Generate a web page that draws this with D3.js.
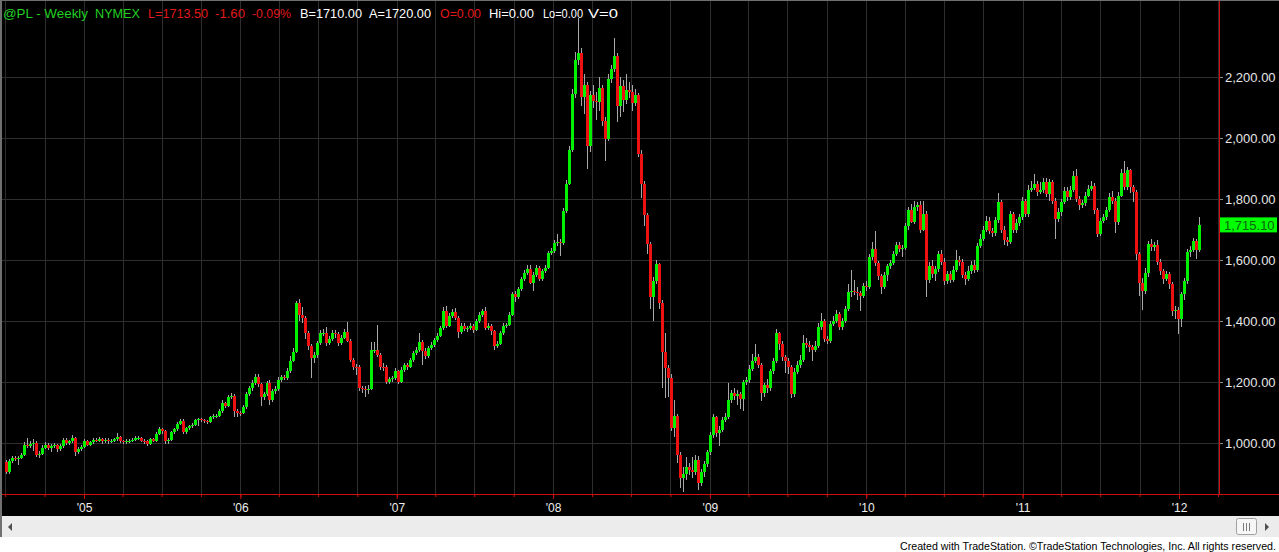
<!DOCTYPE html>
<html><head><meta charset="utf-8">
<script src="https://cdn.jsdelivr.net/npm/d3@7"></script>
<style>html,body{margin:0;padding:0;background:#fff;overflow:hidden}svg{display:block}</style>
</head><body><svg id="c" width="1279" height="552"></svg>
<script>
// ---- DATA: weekly bars [high, low, close]; open = previous close ----
const firstOpen = 938;
const firstWeek = new Date(2004, 6, 2);
const w2004 = [[945,897,905],[946,898,940],[956,935,950],[958,940,948],[958,927,952],[968,948,962],[1003,958,995],[1017,985,990],[1006,984,998],[1012,975,1000],[1008,955,960],[975,952,965],[995,960,985],[1003,980,995],[1000,978,985],[996,972,990],[1000,982,992],[998,972,980],[996,974,990],[1016,985,1010],[1018,995,1000],[1010,994,1005],[1025,1000,1015],[1020,956,970],[986,964,980],[994,975,988],[1012,984,1005]];
const w2005 = [[1010,990,995],[1008,990,1002],[1018,998,1010],[1016,1002,1008],[1020,1003,1012],[1016,998,1005],[1016,1000,1010],[1015,998,1005],[1014,1000,1008],[1018,1002,1012],[1033,1008,1020],[1024,1000,1005],[1010,998,1003],[1012,998,1006],[1014,1000,1008],[1016,1003,1010],[1022,1006,1015],[1022,1010,1017],[1020,1002,1008],[1012,998,1005],[1010,990,998],[1018,994,1012],[1016,1002,1008],[1036,1004,1030],[1052,1025,1045],[1050,1030,1040],[1044,998,1005],[1016,998,1010],[1040,1005,1035],[1050,1030,1045],[1068,1040,1062],[1080,1058,1072],[1080,1030,1035],[1054,1030,1048],[1060,1042,1055],[1066,1050,1060],[1080,1055,1075],[1082,1055,1078],[1082,1070,1076],[1080,1066,1072],[1076,1062,1068],[1090,1064,1085],[1094,1080,1088],[1096,1082,1090],[1110,1085,1105],[1140,1100,1130],[1135,1115,1122],[1156,1118,1150],[1165,1145,1155],[1160,1085,1105],[1110,1085,1100],[1106,1090,1098]];
const w2006 = [[1124,1094,1118],[1166,1112,1160],[1188,1155,1180],[1205,1172,1197],[1226,1190,1218],[1225,1185,1193],[1198,1120,1150],[1168,1140,1160],[1204,1155,1197],[1205,1123,1140],[1178,1135,1170],[1186,1162,1178],[1215,1172,1208],[1222,1200,1215],[1222,1205,1212],[1245,1208,1235],[1285,1230,1270],[1310,1265,1300],[1465,1295,1460],[1472,1400,1420],[1445,1395,1410],[1418,1340,1360],[1368,1305,1317],[1325,1213,1280],[1300,1262,1290],[1335,1280,1328],[1372,1322,1360],[1375,1350,1362],[1380,1318,1328],[1350,1320,1340],[1370,1335,1362],[1372,1345,1358],[1365,1318,1328],[1355,1320,1345],[1374,1340,1365],[1397,1330,1335],[1340,1265,1273],[1280,1238,1250],[1258,1222,1248],[1255,1170,1180],[1188,1165,1178],[1186,1152,1177],[1190,1160,1178],[1330,1175,1305],[1330,1295,1305],[1388,1282,1290],[1296,1238,1250],[1262,1235,1248],[1255,1195,1200],[1218,1195,1210],[1220,1200,1212],[1245,1205,1235]];
const w2007 = [[1240,1195,1200],[1248,1196,1240],[1262,1232,1255],[1262,1240,1250],[1280,1245,1272],[1302,1265,1295],[1315,1288,1305],[1360,1300,1330],[1338,1257,1303],[1310,1275,1285],[1318,1280,1310],[1330,1305,1322],[1345,1315,1338],[1360,1332,1352],[1385,1348,1377],[1445,1370,1432],[1448,1378,1385],[1425,1380,1418],[1440,1410,1430],[1443,1402,1410],[1415,1344,1365],[1392,1358,1385],[1392,1368,1375],[1385,1365,1377],[1394,1372,1385],[1390,1362,1370],[1408,1366,1400],[1428,1395,1420],[1440,1414,1432],[1445,1370,1377],[1392,1372,1385],[1390,1355,1366],[1370,1305,1317],[1335,1310,1325],[1368,1320,1360],[1392,1355,1385],[1395,1378,1388],[1428,1382,1420],[1495,1415,1488],[1500,1462,1478],[1512,1472,1504],[1545,1498,1537],[1566,1530,1558],[1582,1550,1570],[1585,1520,1526],[1560,1500,1550],[1582,1545,1575],[1580,1530,1537],[1570,1532,1564],[1584,1558,1575],[1630,1570,1622],[1640,1615,1630]];
const w2008 = [[1664,1622,1655],[1685,1645,1660],[1670,1614,1656],[1770,1650,1762],[1862,1755,1850],[1975,1845,1962],[2160,1955,2145],[2282,2130,2255],[2392,2240,2280],[2295,2105,2135],[2210,2080,2175],[2185,1900,1975],[2155,1953,2140],[2175,2100,2120],[2150,2060,2118],[2200,2090,2165],[2175,2040,2057],[2070,1926,1997],[2210,1990,2195],[2240,2180,2225],[2328,2215,2270],[2280,2052,2105],[2200,2070,2172],[2190,2085,2123],[2211,2110,2157],[2185,2130,2150],[2175,2090,2115],[2160,2105,2140],[2148,1937,1948],[1960,1802,1850],[1860,1712,1747],[1755,1620,1652],[1660,1438,1480],[1545,1399,1530],[1600,1520,1586],[1590,1440,1460],[1470,1181,1300],[1360,1148,1246],[1255,1150,1214],[1225,1040,1050],[1142,1020,1087],[1095,934,962],[970,852,885],[920,838,900],[955,880,920],[935,895,912],[955,885,905],[960,895,945],[958,845,870],[915,860,905],[940,890,930],[978,922,970]];
const w2009 = [[1035,962,1025],[1095,1015,1085],[1090,1020,1033],[1055,989,1043],[1085,1035,1075],[1100,1068,1085],[1197,1080,1140],[1175,1130,1165],[1180,1140,1153],[1175,1125,1160],[1168,1110,1145],[1208,1106,1200],[1215,1190,1205],[1255,1198,1243],[1292,1235,1270],[1325,1262,1283],[1292,1245,1255],[1262,1139,1163],[1198,1150,1190],[1210,1165,1180],[1242,1172,1235],[1280,1225,1270],[1374,1262,1360],[1365,1305,1325],[1335,1270,1283],[1290,1230,1270],[1278,1225,1248],[1255,1147,1160],[1245,1152,1232],[1270,1225,1255],[1290,1245,1273],[1355,1265,1327],[1345,1310,1320],[1335,1300,1315],[1322,1270,1305],[1335,1298,1318],[1395,1312,1380],[1425,1372,1400],[1408,1330,1340],[1350,1325,1335],[1400,1328,1390],[1415,1385,1400],[1435,1392,1422],[1430,1372,1380],[1410,1370,1400],[1450,1392,1440],[1520,1432,1495],[1567,1480,1500],[1535,1485,1496],[1510,1470,1492],[1500,1434,1483],[1525,1475,1515]];
const w2010 = [[1530,1500,1512],[1620,1505,1610],[1660,1600,1637],[1696,1580,1590],[1598,1535,1548],[1555,1490,1512],[1560,1505,1550],[1588,1530,1580],[1600,1570,1590],[1630,1582,1620],[1660,1612,1650],[1660,1625,1636],[1650,1610,1640],[1720,1632,1710],[1775,1700,1765],[1782,1720,1725],[1792,1718,1775],[1790,1760,1780],[1792,1690,1700],[1792,1695,1750],[1760,1478,1535],[1592,1525,1580],[1600,1540,1555],[1580,1530,1570],[1630,1560,1620],[1633,1585,1595],[1605,1518,1530],[1565,1520,1555],[1565,1525,1535],[1580,1528,1567],[1633,1560,1600],[1612,1580,1592],[1602,1540,1550],[1560,1519,1538],[1580,1530,1565],[1598,1555,1585],[1600,1558,1568],[1655,1560,1645],[1685,1638,1670],[1712,1662,1700],[1745,1692,1729],[1740,1685,1696],[1705,1675,1690],[1742,1680,1730],[1819,1722,1790],[1798,1690,1700],[1712,1650,1665],[1675,1646,1660],[1760,1652,1750],[1758,1690,1700],[1735,1690,1722],[1752,1712,1740],[1808,1732,1792]];
const w2011 = [[1800,1740,1750],[1845,1742,1830],[1860,1822,1836],[1882,1828,1850],[1860,1810,1822],[1855,1815,1830],[1868,1820,1855],[1868,1805,1816],[1865,1792,1855],[1862,1785,1795],[1802,1668,1734],[1770,1725,1756],[1800,1745,1790],[1838,1782,1826],[1840,1795,1805],[1842,1798,1830],[1893,1822,1877],[1900,1790,1800],[1810,1765,1780],[1798,1770,1786],[1822,1778,1811],[1845,1805,1833],[1860,1825,1844],[1852,1750,1765],[1772,1676,1685],[1738,1680,1727],[1752,1720,1740],[1775,1732,1764],[1820,1758,1808],[1825,1785,1795],[1802,1687,1723],[1822,1715,1811],[1899,1805,1884],[1926,1830,1838],[1905,1830,1895],[1900,1820,1838],[1845,1790,1822],[1830,1600,1619],[1625,1482,1526],[1540,1435,1500],[1575,1490,1558],[1663,1545,1652],[1668,1630,1641],[1660,1630,1648],[1665,1585,1595],[1602,1550,1564],[1572,1520,1537],[1565,1530,1553],[1562,1505,1520],[1528,1418,1433],[1450,1405,1437],[1445,1358,1405]];
const w2012 = [[1495,1380,1488],[1540,1470,1531],[1635,1520,1625],[1645,1610,1632],[1672,1625,1661],[1668,1604,1632],[1740,1625,1715.1]];
const priceTicks = [1000, 1200, 1400, 1600, 1800, 2000, 2200];
const yearLabels = ["'05", "'06", "'07", "'08", "'09", "'10", "'11", "'12"];
const lastPrice = 1715.10;
const headerParts = [
  {t: "@PL - Weekly", c: "g"}, {t: "NYMEX", c: "g"}, {t: "L=1713.50", c: "r"}, {t: "-1.60", c: "r"},
  {t: "-0.09%", c: "r"}, {t: "B=1710.00", c: "w"}, {t: "A=1720.00", c: "w"}, {t: "O=0.00", c: "r"},
  {t: "Hi=0.00", c: "w"}, {t: "Lo=0.00", c: "w"}, {t: "V=0", c: "w"}];
// layout of header pieces: [left x, width]
const headerBox = [[3, 85], [95, 45], [148, 60], [215, 30], [252, 39], [300, 62], [369, 62], [440, 41], [489, 45], [543, 40], [588, 30]];

// ---- build bars ----
const rows = [].concat(w2004, w2005, w2006, w2007, w2008, w2009, w2010, w2011, w2012);
const bars = rows.map((r, i) => ({
  date: d3.timeDay.offset(firstWeek, 7 * i),
  open: i === 0 ? firstOpen : rows[i - 1][2],
  high: r[0], low: r[1], close: r[2]
}));

const W = 1279, H = 552, plotR = 1219, axisY = 494;
const GREEN = "#00f000", RED = "#ee1111";
const FONT = "Arial, 'Liberation Sans', sans-serif";
const svg = d3.select("#c");
svg.append("rect").attr("width", W).attr("height", 516).attr("fill", "#000");

const x = d3.scaleTime().domain([new Date(2005, 0, 1), new Date(2012, 0, 1)]).range([84, 1179]);
const y = d3.scaleLinear().domain([1000, 2200]).range([443, 77]);

// grid
const quarters = d3.timeMonth.every(3).range(x.invert(0), x.invert(plotR));
const grid = svg.append("g").attr("shape-rendering", "crispEdges");
grid.selectAll(".vg").data(quarters).join("line")
  .attr("x1", d => Math.round(x(d)) + 0.5).attr("x2", d => Math.round(x(d)) + 0.5)
  .attr("y1", 0).attr("y2", axisY).attr("stroke", "#2e2e2e");
grid.selectAll(".hg").data(priceTicks).join("line")
  .attr("x1", 0).attr("x2", plotR).attr("y1", d => Math.round(y(d)) + 0.5).attr("y2", d => Math.round(y(d)) + 0.5)
  .attr("stroke", "#2e2e2e");

// candles
const cg = svg.append("g").attr("shape-rendering", "crispEdges");
const bar = cg.selectAll("g").data(bars).join("g");
bar.append("line")
  .attr("x1", d => Math.round(x(d.date)) + 0.5).attr("x2", d => Math.round(x(d.date)) + 0.5)
  .attr("y1", d => y(d.high)).attr("y2", d => y(d.low))
  .attr("stroke", "#a8a8a8").attr("stroke-width", 1);
bar.append("rect")
  .attr("x", d => Math.round(x(d.date)) - 0.6)
  .attr("width", 2.6)
  .attr("y", d => y(Math.max(d.open, d.close)))
  .attr("height", d => Math.max(1, Math.abs(y(d.open) - y(d.close))))
  .attr("fill", d => d.close >= d.open ? GREEN : RED);

// right axis
const ra = svg.append("g").attr("transform", `translate(${plotR},0)`)
  .call(d3.axisRight(y).tickValues(priceTicks).tickFormat(d3.format(",.2f")).tickSize(4).tickPadding(2));
ra.select(".domain").remove();
ra.selectAll(".tick line").attr("stroke", "#8a8a8a");
ra.selectAll(".tick text").attr("fill", "#e6e6e6").style("font", "13px " + FONT);

// current price marker
svg.append("rect").attr("x", plotR).attr("y", y(lastPrice) - 7.5).attr("width", 58).attr("height", 15).attr("fill", "#00ff00");
svg.append("text").attr("x", plotR + 5).attr("y", y(lastPrice) + 5)
  .attr("fill", "#0c640c").style("font", "13px " + FONT)
  .text(d3.format(",.2f")(lastPrice));

// bottom axis
const years = d3.timeYear.range(new Date(2005, 0, 1), new Date(2012, 1, 1));
const qa = svg.append("g").attr("transform", `translate(0,${axisY})`)
  .call(d3.axisBottom(x).tickValues(quarters).tickSize(3).tickFormat(""));
qa.select(".domain").remove();
qa.selectAll(".tick line").attr("stroke", "#d01010");
const ya = svg.append("g").attr("transform", `translate(0,${axisY})`)
  .call(d3.axisBottom(x).tickValues(years).tickSize(5).tickFormat((d, i) => yearLabels[i]));
ya.select(".domain").remove();
ya.selectAll(".tick line").attr("stroke", "#d01010");
ya.selectAll(".tick text").attr("fill", "#eeeeee").attr("y", 9)
  .style("font", "12px " + FONT);

// frame lines
svg.append("line").attr("x1", 0).attr("x2", W).attr("y1", axisY + 0.5).attr("y2", axisY + 0.5).attr("stroke", "#d01010");
svg.append("line").attr("x1", plotR + 0.5).attr("x2", plotR + 0.5).attr("y1", 0).attr("y2", axisY).attr("stroke", "#d01010");
svg.append("line").attr("x1", 0).attr("x2", W).attr("y1", 0.5).attr("y2", 0.5).attr("stroke", "#707070");
svg.append("line").attr("x1", 1).attr("x2", 1).attr("y1", 0).attr("y2", 537).attr("stroke", "#707070").attr("stroke-width", 2);

// header
const colors = {g: "#22d022", r: "#e01818", w: "#ffffff"};
svg.append("g").selectAll("text").data(headerParts).join("text")
  .attr("x", (d, i) => headerBox[i][0]).attr("y", 18)
  .attr("textLength", (d, i) => headerBox[i][1]).attr("lengthAdjust", "spacingAndGlyphs")
  .attr("fill", d => colors[d.c]).style("font", "12.5px " + FONT)
  .text(d => d.t);

// scrollbar
svg.append("rect").attr("x", 2).attr("y", 516).attr("width", W - 2).attr("height", 21).attr("fill", "#ececec");
svg.append("path").attr("d", "M8,527 L12,523 L12,531 Z").attr("fill", "#505050");
svg.append("rect").attr("x", 1236.5).attr("y", 518.5).attr("width", 20).attr("height", 16).attr("rx", 2)
  .attr("fill", "#f6f6f6").attr("stroke", "#a0a0a0");
[1243, 1246, 1249].forEach(px => svg.append("line").attr("x1", px + 0.5).attr("x2", px + 0.5)
  .attr("y1", 523).attr("y2", 531).attr("stroke", "#7a7a7a"));
svg.append("path").attr("d", "M1269,527 L1265,523 L1265,531 Z").attr("fill", "#505050");

// footer
svg.append("text").attr("x", 900).attr("y", 550)
  .attr("textLength", 376).attr("lengthAdjust", "spacingAndGlyphs")
  .attr("fill", "#000").style("font", "10.5px " + FONT)
  .text("Created with TradeStation. \u00A9TradeStation Technologies, Inc. All rights reserved.");
</script></body></html>
